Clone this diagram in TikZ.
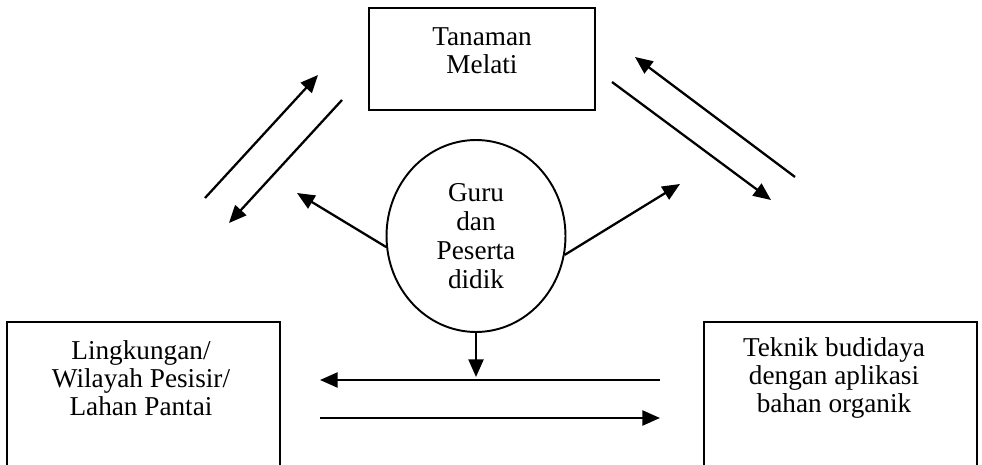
\documentclass[tikz,border=0pt]{standalone}
\usepackage{fontspec}
\setmainfont{Liberation Serif}
\usetikzlibrary{arrows.meta,shapes.geometric}
\begin{document}
\begin{tikzpicture}[x=0.02cm,y=-0.02cm,
  box/.style={draw, line width=1.1pt, inner sep=0pt},
  lbl/.style={align=center, font=\fontsize{15.5}{16}\selectfont, inner sep=0pt},
  arr/.style={line width=1.3pt, -{Triangle[length=10pt,width=8.5pt]}}]
\clip (0,0) rectangle (982,465);
\fill[white] (0,0) rectangle (982,465);
% boxes
\node[box, minimum width=4.52cm, minimum height=2.04cm] (top) at (482,59) {};
\node[lbl] (toptxt) at (482,51) {Tanaman\\Melati};
\node[box, minimum width=5.46cm, minimum height=3.36cm] (left) at (143.5,406) {};
\node[lbl] (lefttxt) at (141,378) {Lingkungan/\\Wilayah Pesisir/\\Lahan Pantai};
\node[box, minimum width=5.46cm, minimum height=3.36cm] (right) at (840.5,406) {};
\node[lbl] (righttxt) at (834,378) {Teknik budidaya\\dengan aplikasi\\bahan organik};
% circle
\node[ellipse, draw, line width=1.1pt, minimum width=3.58cm, minimum height=3.84cm, inner sep=0pt] (circ) at (476,236) {};
\node[lbl, font=\fontsize{15.5}{16.6}\selectfont] (circtxt) at (476,236) {Guru\\dan\\Peserta\\didik};
% free ends
\coordinate (a1s) at (205,198);
\coordinate (a1e) at (318,75);
\coordinate (a2s) at (342,100);
\coordinate (a2e) at (229,223);
\coordinate (b1s) at (795,177);
\coordinate (b1e) at (635,57);
\coordinate (b2s) at (612,82);
\coordinate (b2e) at (771,200);
\coordinate (cl) at (297,193);
\coordinate (cr) at (680,184);
\coordinate (cd) at (476,377);
\coordinate (h1s) at (660,380);
\coordinate (h1e) at (320,380);
\coordinate (h2s) at (320,418);
\coordinate (h2e) at (660,418);
% arrows
\draw[arr] (a1s) -- (a1e);
\draw[arr] (a2s) -- (a2e);
\draw[arr] (b1s) -- (b1e);
\draw[arr] (b2s) -- (b2e);
\draw[arr] (circ.187) -- (cl);
\draw[arr] (circ.-12) -- (cr);
\draw[arr] (circ.south) -- (cd);
\draw[arr] (h1s) -- (h1e);
\draw[arr] (h2s) -- (h2e);
\end{tikzpicture}
\end{document}
